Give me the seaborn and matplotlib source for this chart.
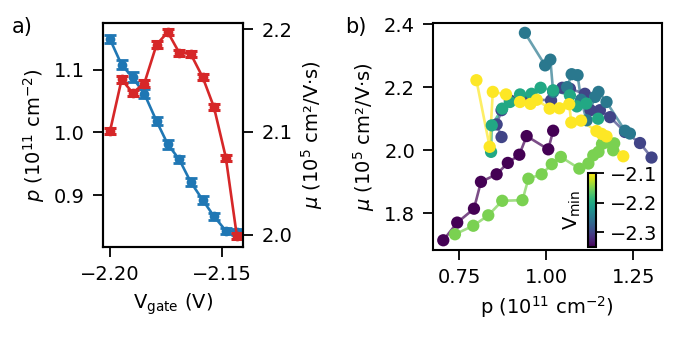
import numpy as np
import pandas as pd
import matplotlib
matplotlib.use("Agg")
import matplotlib.pyplot as plt
import seaborn as sns
from matplotlib.colors import Normalize
from matplotlib.cm import ScalarMappable

# ---- Panel a data ----
vgate = [-2.2000, -2.1948, -2.1899, -2.1847, -2.1792, -2.1742,
         -2.1691, -2.1640, -2.1586, -2.1536, -2.1483, -2.1434]
p_vals = [1.149, 1.108, 1.088, 1.062, 1.018, 0.981,
          0.957, 0.921, 0.892, 0.866, 0.843, 0.841]
p_err = [0.006, 0.007, 0.008, 0.007, 0.006, 0.007,
         0.006, 0.006, 0.006, 0.006, 0.005, 0.005]
mu_vals = [2.1005, 2.151, 2.138, 2.147, 2.185, 2.197,
           2.177, 2.176, 2.153, 2.124, 2.075, 1.999]
mu_err = [0.003, 0.003, 0.003, 0.003, 0.003, 0.003,
          0.003, 0.003, 0.003, 0.003, 0.003, 0.003]

# ---- Panel b data (one series per Vmin) ----
vmin_levels = [-2.35, -2.30, -2.25, -2.20, -2.15, -2.10]
p_s1 = [0.705, 0.745, 0.793, 0.813, 0.858, 0.890, 0.923, 0.944, 1.006, 1.020]
mu_s1 = [1.715, 1.771, 1.815, 1.900, 1.924, 1.960, 1.986, 2.045, 2.003, 2.062]
p_s2 = [0.872, 0.858, 0.872, 0.896, 0.939, 1.014, 1.046, 1.068, 1.111, 1.127,
        1.154, 1.183, 1.226, 1.269, 1.302]
mu_s2 = [2.042, 2.082, 2.127, 2.158, 2.163, 2.158, 2.198, 2.195, 2.179, 2.127,
         2.127, 2.105, 2.058, 2.023, 1.977]
p_s3 = [0.939, 0.997, 1.012, 1.020, 1.060, 1.073, 1.090, 1.100, 1.116, 1.140,
        1.150, 1.173, 1.226, 1.240]
mu_s3 = [2.372, 2.269, 2.287, 2.185, 2.200, 2.241, 2.238, 2.160, 2.095, 2.169,
         2.185, 2.153, 2.062, 2.053]
p_s4 = [0.842, 0.844, 0.874, 0.896, 0.925, 0.958, 0.984, 1.020, 1.068, 1.088,
        1.115, 1.149]
mu_s4 = [1.995, 2.079, 2.132, 2.153, 2.177, 2.179, 2.198, 2.190, 2.174, 2.139,
         2.148, 2.100]
p_s5 = [0.7385, 0.791, 0.834, 0.874, 0.932, 0.949, 0.987, 1.016, 1.042, 1.095,
        1.121, 1.135, 1.150, 1.160, 1.175, 1.192, 1.195]
mu_s5 = [1.734, 1.761, 1.794, 1.840, 1.842, 1.910, 1.924, 1.956, 1.979, 1.942,
         1.958, 1.984, 1.995, 2.020, 2.025, 2.000, 2.022]
p_s6 = [0.800, 0.838, 0.847, 0.885, 0.925, 0.955, 0.973, 1.010, 1.038, 1.066,
        1.072, 1.100, 1.144, 1.159, 1.173, 1.221]
mu_s6 = [2.222, 2.011, 2.185, 2.177, 2.153, 2.147, 2.160, 2.132, 2.133, 2.146,
         2.088, 2.094, 2.061, 2.052, 2.044, 1.981]

series_p = [p_s1, p_s2, p_s3, p_s4, p_s5, p_s6]
series_mu = [mu_s1, mu_s2, mu_s3, mu_s4, mu_s5, mu_s6]

# ---- style ----
FS = 14
sns.set_theme(style="ticks")
plt.rcParams['font.family'] = ['DejaVu Sans']
plt.rcParams.update({
    'font.size': FS, 'axes.labelsize': FS,
    'xtick.labelsize': FS, 'ytick.labelsize': FS,
    'axes.edgecolor': 'black', 'axes.linewidth': 1.5,
    'xtick.color': 'black', 'ytick.color': 'black',
    'text.color': 'black', 'axes.labelcolor': 'black',
    'xtick.major.size': 7.5, 'ytick.major.size': 7.5,
    'xtick.major.width': 1.3, 'ytick.major.width': 1.3,
    'xtick.major.pad': 5.5, 'ytick.major.pad': 5.5,
    'axes.labelpad': 5.0,
    'mathtext.default': 'regular',
})

blue = '#1f77b4'
red = '#d62728'

fig = plt.figure(figsize=(6.8, 3.37), dpi=100)

# ---- Panel a ----
axA = fig.add_axes([0.1515, 0.267, 0.206, 0.665])
axA2 = axA.twinx()
df_a = pd.DataFrame({'vgate': vgate, 'p': p_vals, 'mu': mu_vals})

sns.lineplot(data=df_a, x='vgate', y='p', ax=axA, color=blue, marker='o',
             markersize=7, markeredgewidth=0, linewidth=1.9, sort=False)
axA.errorbar(vgate, p_vals, yerr=p_err, fmt='none', ecolor=blue,
             capsize=4.5, elinewidth=1.6, capthick=2.0)
sns.lineplot(data=df_a, x='vgate', y='mu', ax=axA2, color=red, marker='o',
             markersize=7, markeredgewidth=0, linewidth=1.9, sort=False)
axA2.errorbar(vgate, mu_vals, yerr=mu_err, fmt='none', ecolor=red,
              capsize=4.5, elinewidth=1.6, capthick=2.2)

axA.set_xlim(-2.2031, -2.1406)
axA.set_ylim(0.817, 1.175)
axA2.set_ylim(1.988, 2.206)
axA.set_xticks([-2.20, -2.15])
axA.set_yticks([0.9, 1.0, 1.1])
axA2.set_yticks([2.0, 2.1, 2.2])
axA.set_xlabel('V$_\\mathrm{gate}$ (V)')
axA.set_ylabel('$\\mathit{p}$ (10$^{11}$ cm$^{-2}$)')
axA2.set_ylabel('$\\mathit{\\mu}$ (10$^5$ cm²/V·s)')
for sp in axA2.spines.values():
    sp.set_linewidth(1.5)
    sp.set_color('black')

# ---- Panel b ----
axB = fig.add_axes([0.637, 0.258, 0.336, 0.6745])
rows = []
for lvl, ps, ms in zip(vmin_levels, series_p, series_mu):
    for i, (pp, mm) in enumerate(zip(ps, ms)):
        rows.append({'p': pp, 'mu': mm, 'Vmin': lvl, 'order': i})
df_b = pd.DataFrame(rows)
norm = Normalize(vmin=-2.35, vmax=-2.10)

sns.lineplot(data=df_b, x='p', y='mu', hue='Vmin', palette='viridis',
             hue_norm=norm, sort=False, estimator=None, ax=axB,
             linewidth=1.9, alpha=0.7, legend=False)
sns.scatterplot(data=df_b, x='p', y='mu', hue='Vmin', palette='viridis',
                hue_norm=norm, s=78, linewidth=0, ax=axB, legend=False,
                zorder=3)
axB.set_xlim(0.676, 1.331)
axB.set_ylim(1.684, 2.404)
axB.set_xticks([0.75, 1.00, 1.25])
axB.set_yticks([1.8, 2.0, 2.2, 2.4])
axB.set_xlabel('p (10$^{11}$ cm$^{-2}$)')
axB.set_ylabel('$\\mathit{\\mu}$ (10$^5$ cm²/V·s)')

cax = fig.add_axes([0.865, 0.2662, 0.0113, 0.2196])
sm = ScalarMappable(norm=norm, cmap='viridis')
cb = fig.colorbar(sm, cax=cax, ticks=[-2.3, -2.2, -2.1])
cb.set_label('V$_\\mathrm{min}$', fontsize=FS, labelpad=4)
cax.yaxis.set_label_position('left')
cb.outline.set_linewidth(1.5)
cb.outline.set_edgecolor('black')
cax.tick_params(labelsize=FS, length=6, width=1.3, pad=4)

fig.text(0.0176, 0.902, 'a)', fontsize=15, va='baseline')
fig.text(0.508, 0.902, 'b)', fontsize=15, va='baseline')

fig.savefig('out.png', dpi=100)
